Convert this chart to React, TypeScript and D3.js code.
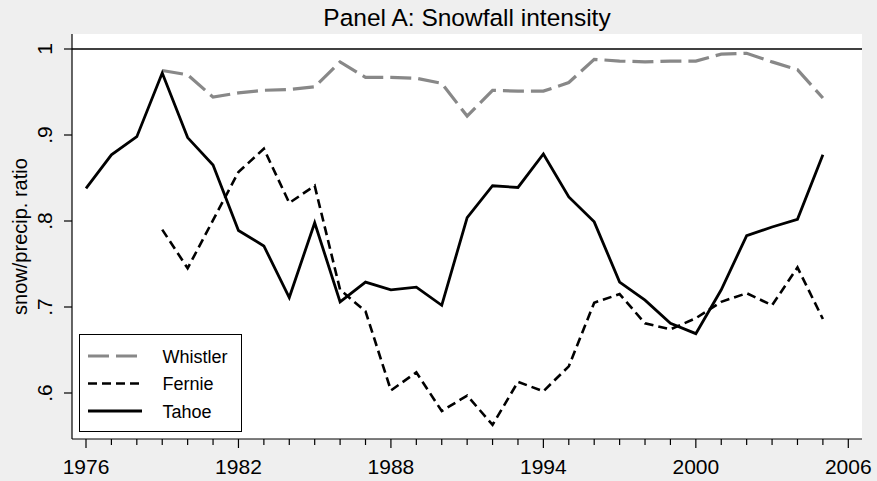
// Panel A: Snowfall intensity - D3 line chart of snow/precip ratio by resort

import { useEffect, useRef } from "react";
import * as d3 from "d3";

const whistlerYears = [
  1979, 1980, 1981, 1982, 1983, 1984, 1985, 1986, 1987, 1988, 1989, 1990, 1991,
  1992, 1993, 1994, 1995, 1996, 1997, 1998, 1999, 2000, 2001, 2002, 2003, 2004,
  2005,
];
const whistlerValues = [
  0.975, 0.97, 0.944, 0.949, 0.952, 0.953, 0.956, 0.985, 0.967, 0.967, 0.966,
  0.96, 0.922, 0.952, 0.951, 0.951, 0.961, 0.988, 0.986, 0.985, 0.986, 0.986,
  0.994, 0.995, 0.985, 0.976, 0.943,
];

const fernieYears = whistlerYears;
const fernieValues = [
  0.79, 0.745, 0.801, 0.857, 0.884, 0.821, 0.841, 0.72, 0.695, 0.603, 0.624,
  0.579, 0.597, 0.563, 0.613, 0.602, 0.631, 0.705, 0.715, 0.681, 0.674, 0.687,
  0.706, 0.716, 0.702, 0.746, 0.686,
];

const tahoeYears = [
  1976, 1977, 1978, 1979, 1980, 1981, 1982, 1983, 1984, 1985, 1986, 1987, 1988,
  1989, 1990, 1991, 1992, 1993, 1994, 1995, 1996, 1997, 1998, 1999, 2000, 2001,
  2002, 2003, 2004, 2005,
];
const tahoeValues = [
  0.838, 0.877, 0.898, 0.972, 0.897, 0.865, 0.789, 0.771, 0.711, 0.798, 0.706,
  0.729, 0.72, 0.723, 0.702, 0.804, 0.841, 0.839, 0.878, 0.828, 0.799, 0.729,
  0.708, 0.681, 0.669, 0.72, 0.783, 0.793, 0.802, 0.877,
];

const xTicks = [1976, 1982, 1988, 1994, 2000, 2006];
const xMinorTicks = d3.range(1976, 2007);
const yTicks = [0.6, 0.7, 0.8, 0.9, 1];
const yTickLabels = [".6", ".7", ".8", ".9", "1"];

const legendNames = ["Whistler", "Fernie", "Tahoe"];

const FONT = "'Liberation Sans', Arial, sans-serif";

export default function App() {
  const svgRef = useRef<SVGSVGElement>(null);
  const width = 877;
  const height = 481;

  useEffect(() => {
    if (!svgRef.current) return;
    const svg = d3.select(svgRef.current);
    svg.selectAll("*").remove();

    // plot region
    const plot = { left: 72, right: 862, top: 34, bottom: 439 };

    const x = d3.scaleLinear().domain([1976, 2006]).range([86, 848.3]);
    const y = d3.scaleLinear().domain([0.6, 1]).range([393, 49]);

    svg.append("rect").attr("width", width).attr("height", height).attr("fill", "#efefef");
    svg
      .append("rect")
      .attr("x", plot.left)
      .attr("y", plot.top)
      .attr("width", plot.right - plot.left)
      .attr("height", plot.bottom - plot.top)
      .attr("fill", "#fff");

    // title
    svg
      .append("text")
      .attr("x", (plot.left + plot.right) / 2)
      .attr("y", 26)
      .attr("text-anchor", "middle")
      .style("font-family", FONT)
      .style("font-size", "24.5px")
      .attr("fill", "#000")
      .text("Panel A: Snowfall intensity");

    // reference line at 1
    svg
      .append("line")
      .attr("x1", plot.left)
      .attr("x2", plot.right)
      .attr("y1", y(1))
      .attr("y2", y(1))
      .attr("stroke", "#000")
      .attr("stroke-width", 1.5);

    // axes
    svg
      .append("line")
      .attr("x1", plot.left)
      .attr("x2", plot.left)
      .attr("y1", plot.top)
      .attr("y2", plot.bottom)
      .attr("stroke", "#000")
      .attr("stroke-width", 1.2);
    svg
      .append("line")
      .attr("x1", plot.left)
      .attr("x2", plot.right)
      .attr("y1", plot.bottom)
      .attr("y2", plot.bottom)
      .attr("stroke", "#000")
      .attr("stroke-width", 1.2);

    // y ticks
    const yt = svg.append("g");
    yTicks.forEach((v, i) => {
      yt.append("line")
        .attr("x1", plot.left - 8)
        .attr("x2", plot.left)
        .attr("y1", y(v))
        .attr("y2", y(v))
        .attr("stroke", "#000")
        .attr("stroke-width", 1.2);
      yt.append("text")
        .attr("transform", `translate(52, ${y(v)}) rotate(-90)`)
        .attr("text-anchor", "middle")
        .style("font-family", FONT)
        .style("font-size", "21px")
        .text(yTickLabels[i]);
    });

    svg
      .append("text")
      .attr("transform", `translate(27, ${(plot.top + plot.bottom) / 2}) rotate(-90)`)
      .attr("text-anchor", "middle")
      .style("font-family", FONT)
      .style("font-size", "20px")
      .text("snow/precip. ratio");

    // x ticks
    const xt = svg.append("g");
    xMinorTicks.forEach((yr) => {
      const major = xTicks.includes(yr);
      xt.append("line")
        .attr("x1", x(yr))
        .attr("x2", x(yr))
        .attr("y1", plot.bottom)
        .attr("y2", plot.bottom + (major ? 9 : 6))
        .attr("stroke", "#000")
        .attr("stroke-width", 1.2);
    });
    xTicks.forEach((yr) => {
      xt.append("text")
        .attr("x", x(yr))
        .attr("y", 474)
        .attr("text-anchor", "middle")
        .style("font-family", FONT)
        .style("font-size", "21px")
        .text(String(yr));
    });

    // series
    const series = [
      { name: "Whistler", years: whistlerYears, values: whistlerValues, color: "#888", dash: "21,7", w: 3.2 },
      { name: "Fernie", years: fernieYears, values: fernieValues, color: "#000", dash: "9,5", w: 2.6 },
      { name: "Tahoe", years: tahoeYears, values: tahoeValues, color: "#000", dash: null, w: 2.8 },
    ];

    const line = d3
      .line<[number, number]>()
      .x((d) => x(d[0]))
      .y((d) => y(d[1]));

    series.forEach((s) => {
      const pts = s.years.map((yr, i) => [yr, s.values[i]] as [number, number]);
      svg
        .append("path")
        .attr("d", line(pts) || "")
        .attr("fill", "none")
        .attr("stroke", s.color)
        .attr("stroke-width", s.w)
        .attr("stroke-dasharray", s.dash)
        .attr("stroke-linejoin", "miter");
    });

    // legend
    const lg = svg.append("g");
    lg.append("rect")
      .attr("x", 79.5)
      .attr("y", 334.5)
      .attr("width", 162)
      .attr("height", 97)
      .attr("fill", "#fff")
      .attr("stroke", "#000")
      .attr("stroke-width", 1);
    legendNames.forEach((name, i) => {
      const s = series.find((d) => d.name === name)!;
      const ly = 356 + i * 27.5;
      lg.append("line")
        .attr("x1", 88)
        .attr("x2", 142)
        .attr("y1", ly)
        .attr("y2", ly)
        .attr("stroke", s.color)
        .attr("stroke-width", s.w)
        .attr("stroke-dasharray", s.dash);
      lg.append("text")
        .attr("x", 162.5)
        .attr("y", ly + 6.5)
        .style("font-family", FONT)
        .style("font-size", "18px")
        .text(name);
    });
  }, []);

  return (
    <svg
      ref={svgRef}
      width={width}
      height={height}
      style={{ position: "absolute", left: 0, top: 0, display: "block" }}
    />
  );
}
